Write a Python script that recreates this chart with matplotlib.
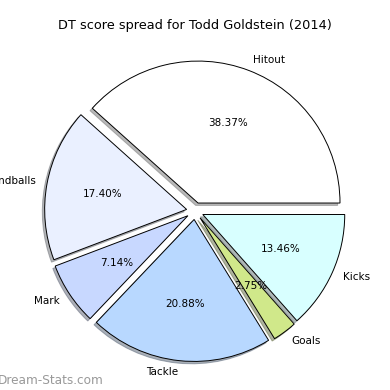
import matplotlib
matplotlib.use("Agg")
import matplotlib.pyplot as plt

labels = ["Hitout", "Handballs", "Mark", "Tackle", "Goals", "Kicks"]
values = [38.37, 17.40, 7.14, 20.88, 2.75, 13.46]
colors = ["#ffffff", "#eaf0ff", "#c8d8ff", "#b8d8ff", "#d0e88a", "#d8ffff"]
explode = [0.06] * len(values)

fig = plt.figure(figsize=(3.9, 3.9), dpi=100)
ax = fig.add_axes([0.045, 0.004, 0.91, 0.91])
wedges, texts, autotexts = ax.pie(
    values, labels=labels, colors=colors, explode=explode, autopct="%.2f%%",
    shadow=dict(ox=-0.012, oy=-0.012, shade=0.55), startangle=0, counterclock=True,
    labeldistance=1.08,
    wedgeprops=dict(edgecolor="black", linewidth=0.7),
    textprops=dict(fontsize=7.5))
ax.set_aspect("equal")
ax.set_xlim(-1.25, 1.25)
ax.set_ylim(-1.25, 1.25)
fig.text(0.5, 0.935, "DT score spread for Todd Goldstein (2014)", ha="center", va="center", fontsize=9.3)
fig.text(-0.005, 0.025, "Dream-Stats.com", ha="left", va="center", fontsize=8.7, color="#999999")
fig.savefig("out.png", dpi=100)
